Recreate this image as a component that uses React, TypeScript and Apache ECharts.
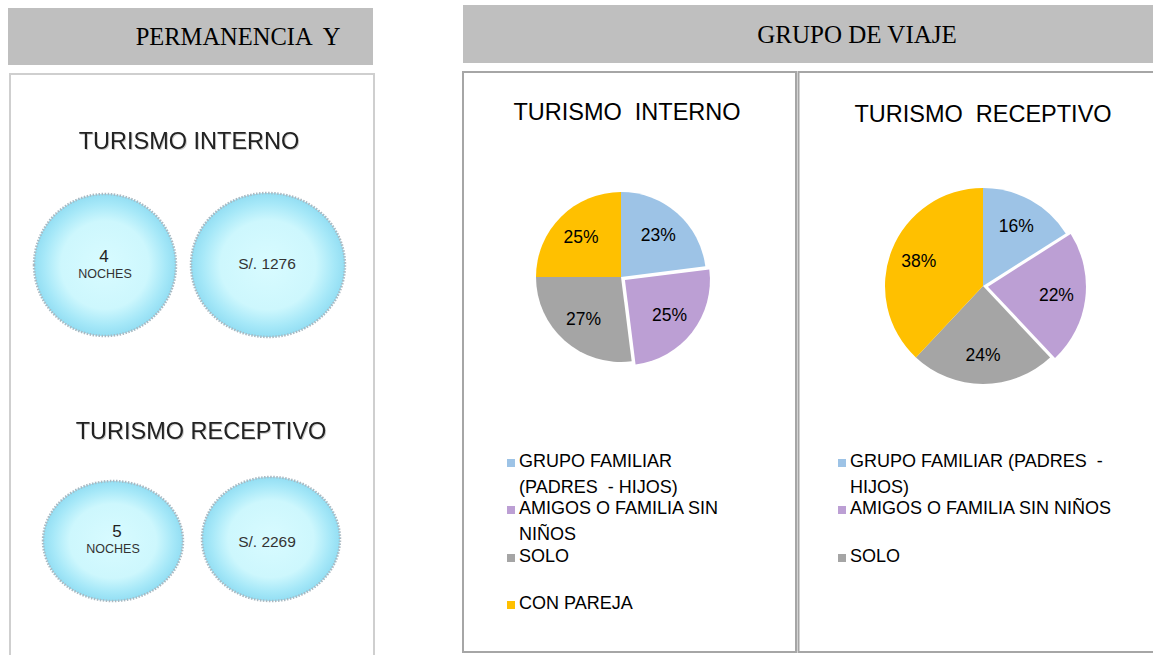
import React, { useEffect, useRef } from "react";
import * as echarts from "echarts";

// ---- data ----
const categories = [
  "GRUPO FAMILIAR (PADRES  - HIJOS)",
  "AMIGOS O FAMILIA SIN NIÑOS",
  "SOLO",
  "CON PAREJA",
];
const colors = ["#9dc3e6", "#bc9fd4", "#a5a5a5", "#ffc000"];
const internoValues = [23, 25, 27, 25];
const receptivoValues = [16, 22, 24, 38];
const explodedIndex = 1;

const internoLegendLines = [
  ["GRUPO FAMILIAR", "(PADRES  - HIJOS)"],
  ["AMIGOS O FAMILIA SIN", "NIÑOS"],
  ["SOLO"],
  ["CON PAREJA"],
];
const receptivoLegendLines = [
  ["GRUPO FAMILIAR (PADRES  -", "HIJOS)"],
  ["AMIGOS O FAMILIA SIN NIÑOS"],
  ["SOLO"],
];

const headerLeft = "PERMANENCIA  Y";
const headerRight = "GRUPO DE VIAJE";
const pieTitles = ["TURISMO  INTERNO", "TURISMO  RECEPTIVO"];
const leftTitles = ["TURISMO INTERNO", "TURISMO RECEPTIVO"];
const nights = ["4", "5"];
const nightsUnit = "NOCHES";
const spending = ["S/. 1276", "S/. 2269"];

const SANS = "'Liberation Sans', Arial, sans-serif";
const SERIF = "'Liberation Serif', 'Times New Roman', serif";

function bubble(cx: number, cy: number, rx: number, ry: number) {
  return {
    type: "ellipse",
    shape: { cx, cy, rx, ry },
    style: {
      fill: new echarts.graphic.RadialGradient(0.5, 0.5, 0.5, [
        { offset: 0, color: "#d8fbff" },
        { offset: 0.62, color: "#cdf7fd" },
        { offset: 0.86, color: "#a6e8f8" },
        { offset: 1, color: "#93def3" },
      ]),
      stroke: "#a9b9c2",
      lineWidth: 2.5,
      lineDash: [1.5, 1.5],
    },
  };
}

function legendGraphics(lines: string[][], tops: number[], mx: number, tx: number) {
  const out: any[] = [];
  lines.forEach((ls, i) => {
    const y = tops[i];
    out.push({
      type: "rect",
      shape: { x: mx, y: y - 2, width: 8, height: 8 },
      style: { fill: colors[i] },
    });
    out.push({
      type: "text",
      x: tx,
      y: y - 13,
      style: {
        text: ls.join("\n"),
        font: `18px ${SANS}`,
        fill: "#000",
        lineHeight: 26,
        verticalAlign: "top",
      },
    });
  });
  return out;
}

function pieSeries(values: number[], cx: number, cy: number, r: number, labelR0: number) {
  const data = values.map((v, i) => ({
    name: categories[i],
    value: v,
    selected: i === explodedIndex,
    itemStyle: { color: colors[i] },
  }));
  const base = {
    type: "pie",
    center: [cx, cy],
    startAngle: 90,
    clockwise: true,
    selectedMode: "single",
    selectedOffset: 5,
    avoidLabelOverlap: false,
    labelLine: { show: false },
    emphasis: { disabled: true },
    silent: true,
  };
  return [
    {
      ...base,
      radius: [0, r],
      data,
      label: { show: false },
    },
    {
      ...base,
      radius: [labelR0, r],
      data: data.map((d) => ({ ...d, itemStyle: { color: "rgba(0,0,0,0)" } })),
      label: {
        show: true,
        position: "inside",
        formatter: (p: any) => `${p.value}%`,
        fontFamily: SANS,
        fontSize: 17.5,
        color: "#000",
      },
    },
  ];
}

export default function App() {
  const ref = useRef<HTMLDivElement>(null);
  useEffect(() => {
    if (!ref.current) return;
    const chart = echarts.init(ref.current, undefined, { renderer: "svg" });
    const leftTitleStyle = {
      font: `23.5px ${SANS}`,
      fill: "#222",
      align: "center",
      verticalAlign: "middle",
      textShadowColor: "rgba(0,0,0,0.2)",
      textShadowBlur: 1.5,
      textShadowOffsetX: 1,
      textShadowOffsetY: 1,
    };
    const graphic: any[] = [
      // headers
      { type: "rect", shape: { x: 8, y: 8, width: 365, height: 57 }, style: { fill: "#bfbfbf" } },
      { type: "rect", shape: { x: 463, y: 5, width: 692, height: 58 }, style: { fill: "#bfbfbf" } },
      {
        type: "text", x: 238, y: 36,
        style: { text: headerLeft, font: `24.5px ${SERIF}`, fill: "#000", align: "center", verticalAlign: "middle" },
      },
      {
        type: "text", x: 857, y: 34,
        style: { text: headerRight, font: `25px ${SERIF}`, fill: "#000", align: "center", verticalAlign: "middle" },
      },
      // boxes
      { type: "rect", shape: { x: 10, y: 74, width: 364, height: 600 }, style: { fill: "none", stroke: "#cfcfcf", lineWidth: 2 } },
      { type: "rect", shape: { x: 463, y: 72, width: 333, height: 580 }, style: { fill: "none", stroke: "#a6a6a6", lineWidth: 2 } },
      { type: "rect", shape: { x: 798.5, y: 72, width: 360, height: 580 }, style: { fill: "none", stroke: "#a6a6a6", lineWidth: 2 } },
      // left titles
      { type: "text", x: 189, y: 141, style: { text: leftTitles[0], ...leftTitleStyle } },
      { type: "text", x: 201, y: 431, style: { text: leftTitles[1], ...leftTitleStyle } },
      // bubbles
      bubble(105, 265, 71, 71),
      bubble(268, 265, 77, 72),
      bubble(113, 541, 70, 60),
      bubble(271, 539, 69, 62),
      {
        type: "text", x: 104, y: 256,
        style: { text: nights[0], font: `17px ${SANS}`, fill: "#222", align: "center", verticalAlign: "middle" },
      },
      {
        type: "text", x: 105, y: 274,
        style: { text: nightsUnit, font: `12.5px ${SANS}`, fill: "#333", align: "center", verticalAlign: "middle" },
      },
      {
        type: "text", x: 267, y: 263,
        style: { text: spending[0], font: `15.5px ${SANS}`, fill: "#333", align: "center", verticalAlign: "middle" },
      },
      {
        type: "text", x: 117, y: 531,
        style: { text: nights[1], font: `17px ${SANS}`, fill: "#222", align: "center", verticalAlign: "middle" },
      },
      {
        type: "text", x: 113, y: 549,
        style: { text: nightsUnit, font: `12.5px ${SANS}`, fill: "#333", align: "center", verticalAlign: "middle" },
      },
      {
        type: "text", x: 267, y: 541,
        style: { text: spending[1], font: `15.5px ${SANS}`, fill: "#333", align: "center", verticalAlign: "middle" },
      },
      // pie titles
      {
        type: "text", x: 627, y: 112,
        style: { text: pieTitles[0], font: `23.5px ${SANS}`, fill: "#000", align: "center", verticalAlign: "middle" },
      },
      {
        type: "text", x: 983, y: 114,
        style: { text: pieTitles[1], font: `23.5px ${SANS}`, fill: "#000", align: "center", verticalAlign: "middle" },
      },
      ...legendGraphics(internoLegendLines, [461, 508, 556, 603], 507, 519),
      ...legendGraphics(receptivoLegendLines, [461, 508, 556], 838, 850),
    ];

    chart.setOption({
      animation: false,
      backgroundColor: "#ffffff",
      graphic,
      series: [
        ...pieSeries(internoValues, 621, 277, 85, 22),
        ...pieSeries(receptivoValues, 983, 286, 98, 34),
      ],
    });
    return () => chart.dispose();
  }, []);
  return (
    <div
      ref={ref}
      style={{ position: "absolute", left: 0, top: 0, width: 1153, height: 655, background: "#fff" }}
    />
  );
}
